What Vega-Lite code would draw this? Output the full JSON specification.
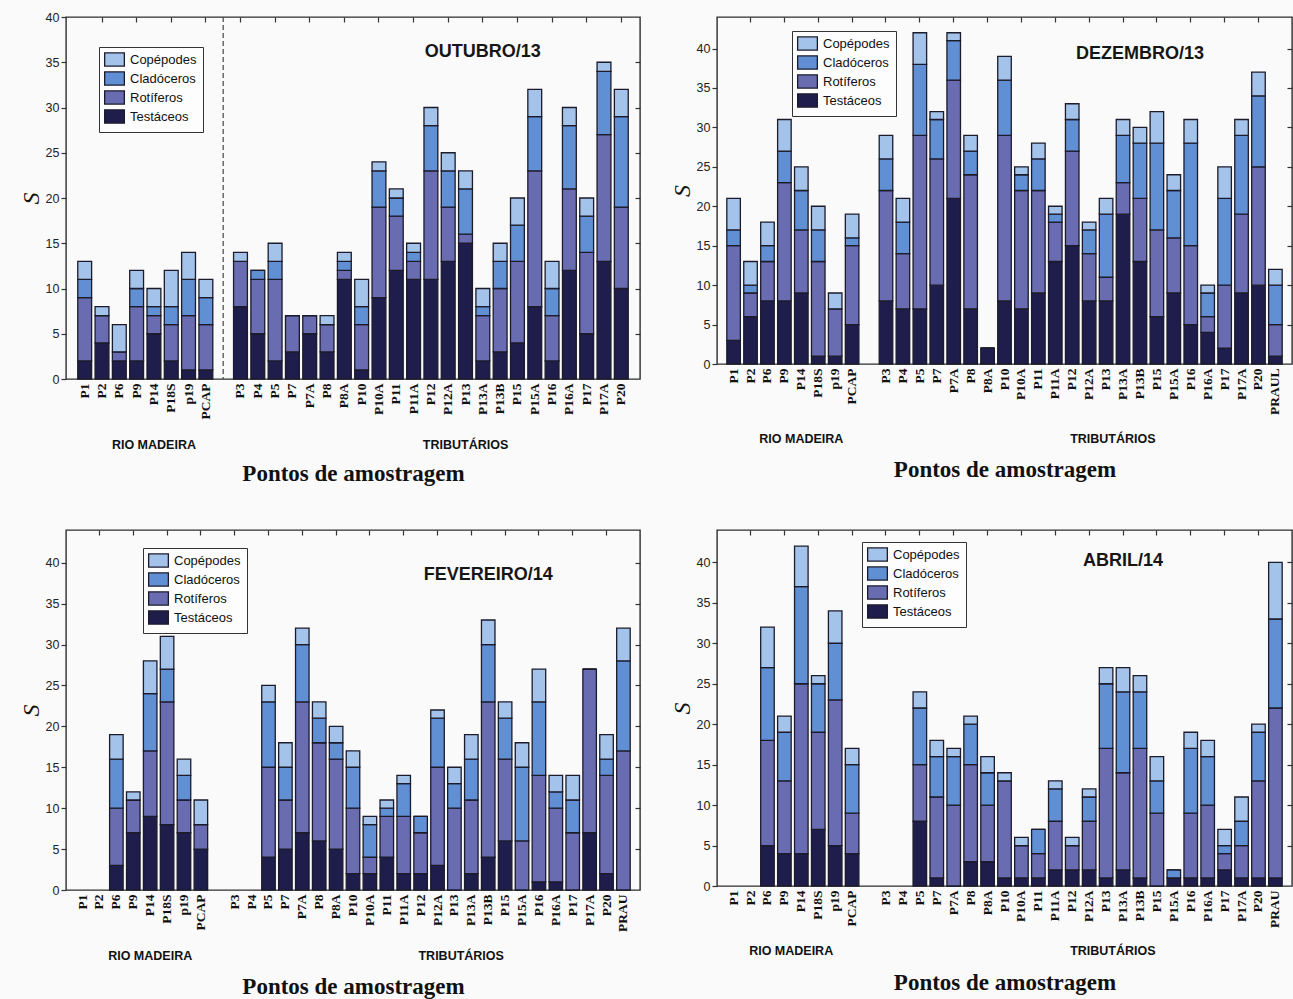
{
  "$schema": "https://vega.github.io/schema/vega-lite/v6.json",
  "background": "#fafafa",
  "padding": {"left": 18, "top": 10, "right": 0, "bottom": 0},
  "config": {
    "view": {"stroke": "#2e2e2e", "strokeWidth": 1.4},
    "font": "Liberation Sans",
    "axis": {"labelOverlap": false, "labelBound": false, "grid": false},
    "legend": {"title": null, "orient": "none", "strokeColor": "#333", "fillColor": "#fdfdfd", "padding": 6, "symbolType": "M-1.8,-1.2H1.8V1.2H-1.8Z", "symbolSize": 120, "symbolStrokeColor": "#1b1b2b", "symbolStrokeWidth": 1.3, "symbolOffset": 3, "labelFont": "Liberation Sans", "labelFontSize": 13, "labelColor": "#111", "labelOffset": 9, "rowPadding": 0}
  },
  "datasets": {
    "outubro": [
      {"Ponto": "P1", "Testáceos": 2, "Rotíferos": 7, "Cladóceros": 2, "Copépodes": 2},
      {"Ponto": "P2", "Testáceos": 4, "Rotíferos": 3, "Cladóceros": 0, "Copépodes": 1},
      {"Ponto": "P6", "Testáceos": 2, "Rotíferos": 1, "Cladóceros": 0, "Copépodes": 3},
      {"Ponto": "P9", "Testáceos": 2, "Rotíferos": 6, "Cladóceros": 2, "Copépodes": 2},
      {"Ponto": "P14", "Testáceos": 5, "Rotíferos": 2, "Cladóceros": 1, "Copépodes": 2},
      {"Ponto": "P18S", "Testáceos": 2, "Rotíferos": 4, "Cladóceros": 2, "Copépodes": 4},
      {"Ponto": "p19", "Testáceos": 1, "Rotíferos": 6, "Cladóceros": 4, "Copépodes": 3},
      {"Ponto": "PCAP", "Testáceos": 1, "Rotíferos": 5, "Cladóceros": 3, "Copépodes": 2},
      {"Ponto": "P3", "Testáceos": 8, "Rotíferos": 5, "Cladóceros": 0, "Copépodes": 1},
      {"Ponto": "P4", "Testáceos": 5, "Rotíferos": 6, "Cladóceros": 1, "Copépodes": 0},
      {"Ponto": "P5", "Testáceos": 2, "Rotíferos": 9, "Cladóceros": 2, "Copépodes": 2},
      {"Ponto": "P7", "Testáceos": 3, "Rotíferos": 4, "Cladóceros": 0, "Copépodes": 0},
      {"Ponto": "P7A", "Testáceos": 5, "Rotíferos": 2, "Cladóceros": 0, "Copépodes": 0},
      {"Ponto": "P8", "Testáceos": 3, "Rotíferos": 3, "Cladóceros": 0, "Copépodes": 1},
      {"Ponto": "P8A", "Testáceos": 11, "Rotíferos": 1, "Cladóceros": 1, "Copépodes": 1},
      {"Ponto": "P10", "Testáceos": 1, "Rotíferos": 5, "Cladóceros": 2, "Copépodes": 3},
      {"Ponto": "P10A", "Testáceos": 9, "Rotíferos": 10, "Cladóceros": 4, "Copépodes": 1},
      {"Ponto": "P11", "Testáceos": 12, "Rotíferos": 6, "Cladóceros": 2, "Copépodes": 1},
      {"Ponto": "P11A", "Testáceos": 11, "Rotíferos": 2, "Cladóceros": 1, "Copépodes": 1},
      {"Ponto": "P12", "Testáceos": 11, "Rotíferos": 12, "Cladóceros": 5, "Copépodes": 2},
      {"Ponto": "P12A", "Testáceos": 13, "Rotíferos": 6, "Cladóceros": 4, "Copépodes": 2},
      {"Ponto": "P13", "Testáceos": 15, "Rotíferos": 1, "Cladóceros": 5, "Copépodes": 2},
      {"Ponto": "P13A", "Testáceos": 2, "Rotíferos": 5, "Cladóceros": 1, "Copépodes": 2},
      {"Ponto": "P13B", "Testáceos": 3, "Rotíferos": 7, "Cladóceros": 3, "Copépodes": 2},
      {"Ponto": "P15", "Testáceos": 4, "Rotíferos": 9, "Cladóceros": 4, "Copépodes": 3},
      {"Ponto": "P15A", "Testáceos": 8, "Rotíferos": 15, "Cladóceros": 6, "Copépodes": 3},
      {"Ponto": "P16", "Testáceos": 2, "Rotíferos": 5, "Cladóceros": 3, "Copépodes": 3},
      {"Ponto": "P16A", "Testáceos": 12, "Rotíferos": 9, "Cladóceros": 7, "Copépodes": 2},
      {"Ponto": "P17", "Testáceos": 5, "Rotíferos": 9, "Cladóceros": 4, "Copépodes": 2},
      {"Ponto": "P17A", "Testáceos": 13, "Rotíferos": 14, "Cladóceros": 7, "Copépodes": 1},
      {"Ponto": "P20", "Testáceos": 10, "Rotíferos": 9, "Cladóceros": 10, "Copépodes": 3}
    ],
    "dezembro": [
      {"Ponto": "P1", "Testáceos": 3, "Rotíferos": 12, "Cladóceros": 2, "Copépodes": 4},
      {"Ponto": "P2", "Testáceos": 6, "Rotíferos": 3, "Cladóceros": 1, "Copépodes": 3},
      {"Ponto": "P6", "Testáceos": 8, "Rotíferos": 5, "Cladóceros": 2, "Copépodes": 3},
      {"Ponto": "P9", "Testáceos": 8, "Rotíferos": 15, "Cladóceros": 4, "Copépodes": 4},
      {"Ponto": "P14", "Testáceos": 9, "Rotíferos": 8, "Cladóceros": 5, "Copépodes": 3},
      {"Ponto": "P18S", "Testáceos": 1, "Rotíferos": 12, "Cladóceros": 4, "Copépodes": 3},
      {"Ponto": "p19", "Testáceos": 1, "Rotíferos": 6, "Cladóceros": 0, "Copépodes": 2},
      {"Ponto": "PCAP", "Testáceos": 5, "Rotíferos": 10, "Cladóceros": 1, "Copépodes": 3},
      {"Ponto": "P3", "Testáceos": 8, "Rotíferos": 14, "Cladóceros": 4, "Copépodes": 3},
      {"Ponto": "P4", "Testáceos": 7, "Rotíferos": 7, "Cladóceros": 4, "Copépodes": 3},
      {"Ponto": "P5", "Testáceos": 7, "Rotíferos": 22, "Cladóceros": 9, "Copépodes": 4},
      {"Ponto": "P7", "Testáceos": 10, "Rotíferos": 16, "Cladóceros": 5, "Copépodes": 1},
      {"Ponto": "P7A", "Testáceos": 21, "Rotíferos": 15, "Cladóceros": 5, "Copépodes": 1},
      {"Ponto": "P8", "Testáceos": 7, "Rotíferos": 17, "Cladóceros": 3, "Copépodes": 2},
      {"Ponto": "P8A", "Testáceos": 2, "Rotíferos": 0, "Cladóceros": 0, "Copépodes": 0},
      {"Ponto": "P10", "Testáceos": 8, "Rotíferos": 21, "Cladóceros": 7, "Copépodes": 3},
      {"Ponto": "P10A", "Testáceos": 7, "Rotíferos": 15, "Cladóceros": 2, "Copépodes": 1},
      {"Ponto": "P11", "Testáceos": 9, "Rotíferos": 13, "Cladóceros": 4, "Copépodes": 2},
      {"Ponto": "P11A", "Testáceos": 13, "Rotíferos": 5, "Cladóceros": 1, "Copépodes": 1},
      {"Ponto": "P12", "Testáceos": 15, "Rotíferos": 12, "Cladóceros": 4, "Copépodes": 2},
      {"Ponto": "P12A", "Testáceos": 8, "Rotíferos": 6, "Cladóceros": 3, "Copépodes": 1},
      {"Ponto": "P13", "Testáceos": 8, "Rotíferos": 3, "Cladóceros": 8, "Copépodes": 2},
      {"Ponto": "P13A", "Testáceos": 19, "Rotíferos": 4, "Cladóceros": 6, "Copépodes": 2},
      {"Ponto": "P13B", "Testáceos": 13, "Rotíferos": 8, "Cladóceros": 7, "Copépodes": 2},
      {"Ponto": "P15", "Testáceos": 6, "Rotíferos": 11, "Cladóceros": 11, "Copépodes": 4},
      {"Ponto": "P15A", "Testáceos": 9, "Rotíferos": 7, "Cladóceros": 6, "Copépodes": 2},
      {"Ponto": "P16", "Testáceos": 5, "Rotíferos": 10, "Cladóceros": 13, "Copépodes": 3},
      {"Ponto": "P16A", "Testáceos": 4, "Rotíferos": 2, "Cladóceros": 3, "Copépodes": 1},
      {"Ponto": "P17", "Testáceos": 2, "Rotíferos": 8, "Cladóceros": 11, "Copépodes": 4},
      {"Ponto": "P17A", "Testáceos": 9, "Rotíferos": 10, "Cladóceros": 10, "Copépodes": 2},
      {"Ponto": "P20", "Testáceos": 10, "Rotíferos": 15, "Cladóceros": 9, "Copépodes": 3},
      {"Ponto": "PRAUL", "Testáceos": 1, "Rotíferos": 4, "Cladóceros": 5, "Copépodes": 2}
    ],
    "fevereiro": [
      {"Ponto": "P6", "Testáceos": 3, "Rotíferos": 7, "Cladóceros": 6, "Copépodes": 3},
      {"Ponto": "P9", "Testáceos": 7, "Rotíferos": 4, "Cladóceros": 0, "Copépodes": 1},
      {"Ponto": "P14", "Testáceos": 9, "Rotíferos": 8, "Cladóceros": 7, "Copépodes": 4},
      {"Ponto": "P18S", "Testáceos": 8, "Rotíferos": 15, "Cladóceros": 4, "Copépodes": 4},
      {"Ponto": "p19", "Testáceos": 7, "Rotíferos": 4, "Cladóceros": 3, "Copépodes": 2},
      {"Ponto": "PCAP", "Testáceos": 5, "Rotíferos": 3, "Cladóceros": 0, "Copépodes": 3},
      {"Ponto": "P5", "Testáceos": 4, "Rotíferos": 11, "Cladóceros": 8, "Copépodes": 2},
      {"Ponto": "P7", "Testáceos": 5, "Rotíferos": 6, "Cladóceros": 4, "Copépodes": 3},
      {"Ponto": "P7A", "Testáceos": 7, "Rotíferos": 16, "Cladóceros": 7, "Copépodes": 2},
      {"Ponto": "P8", "Testáceos": 6, "Rotíferos": 12, "Cladóceros": 3, "Copépodes": 2},
      {"Ponto": "P8A", "Testáceos": 5, "Rotíferos": 11, "Cladóceros": 2, "Copépodes": 2},
      {"Ponto": "P10", "Testáceos": 2, "Rotíferos": 8, "Cladóceros": 5, "Copépodes": 2},
      {"Ponto": "P10A", "Testáceos": 2, "Rotíferos": 2, "Cladóceros": 4, "Copépodes": 1},
      {"Ponto": "P11", "Testáceos": 4, "Rotíferos": 5, "Cladóceros": 1, "Copépodes": 1},
      {"Ponto": "P11A", "Testáceos": 2, "Rotíferos": 7, "Cladóceros": 4, "Copépodes": 1},
      {"Ponto": "P12", "Testáceos": 2, "Rotíferos": 5, "Cladóceros": 2, "Copépodes": 0},
      {"Ponto": "P12A", "Testáceos": 3, "Rotíferos": 12, "Cladóceros": 6, "Copépodes": 1},
      {"Ponto": "P13", "Testáceos": 0, "Rotíferos": 10, "Cladóceros": 3, "Copépodes": 2},
      {"Ponto": "P13A", "Testáceos": 2, "Rotíferos": 9, "Cladóceros": 5, "Copépodes": 3},
      {"Ponto": "P13B", "Testáceos": 4, "Rotíferos": 19, "Cladóceros": 7, "Copépodes": 3},
      {"Ponto": "P15", "Testáceos": 6, "Rotíferos": 10, "Cladóceros": 5, "Copépodes": 2},
      {"Ponto": "P15A", "Testáceos": 0, "Rotíferos": 6, "Cladóceros": 9, "Copépodes": 3},
      {"Ponto": "P16", "Testáceos": 1, "Rotíferos": 13, "Cladóceros": 9, "Copépodes": 4},
      {"Ponto": "P16A", "Testáceos": 1, "Rotíferos": 9, "Cladóceros": 2, "Copépodes": 2},
      {"Ponto": "P17", "Testáceos": 0, "Rotíferos": 7, "Cladóceros": 4, "Copépodes": 3},
      {"Ponto": "P17A", "Testáceos": 7, "Rotíferos": 20, "Cladóceros": 0, "Copépodes": 0},
      {"Ponto": "P20", "Testáceos": 2, "Rotíferos": 12, "Cladóceros": 2, "Copépodes": 3},
      {"Ponto": "PRAU", "Testáceos": 0, "Rotíferos": 17, "Cladóceros": 11, "Copépodes": 4}
    ],
    "abril": [
      {"Ponto": "P6", "Testáceos": 5, "Rotíferos": 13, "Cladóceros": 9, "Copépodes": 5},
      {"Ponto": "P9", "Testáceos": 4, "Rotíferos": 9, "Cladóceros": 6, "Copépodes": 2},
      {"Ponto": "P14", "Testáceos": 4, "Rotíferos": 21, "Cladóceros": 12, "Copépodes": 5},
      {"Ponto": "P18S", "Testáceos": 7, "Rotíferos": 12, "Cladóceros": 6, "Copépodes": 1},
      {"Ponto": "p19", "Testáceos": 5, "Rotíferos": 18, "Cladóceros": 7, "Copépodes": 4},
      {"Ponto": "PCAP", "Testáceos": 4, "Rotíferos": 5, "Cladóceros": 6, "Copépodes": 2},
      {"Ponto": "P5", "Testáceos": 8, "Rotíferos": 7, "Cladóceros": 7, "Copépodes": 2},
      {"Ponto": "P7", "Testáceos": 1, "Rotíferos": 10, "Cladóceros": 5, "Copépodes": 2},
      {"Ponto": "P7A", "Testáceos": 0, "Rotíferos": 10, "Cladóceros": 6, "Copépodes": 1},
      {"Ponto": "P8", "Testáceos": 3, "Rotíferos": 12, "Cladóceros": 5, "Copépodes": 1},
      {"Ponto": "P8A", "Testáceos": 3, "Rotíferos": 7, "Cladóceros": 4, "Copépodes": 2},
      {"Ponto": "P10", "Testáceos": 1, "Rotíferos": 12, "Cladóceros": 0, "Copépodes": 1},
      {"Ponto": "P10A", "Testáceos": 1, "Rotíferos": 4, "Cladóceros": 0, "Copépodes": 1},
      {"Ponto": "P11", "Testáceos": 1, "Rotíferos": 3, "Cladóceros": 3, "Copépodes": 0},
      {"Ponto": "P11A", "Testáceos": 2, "Rotíferos": 6, "Cladóceros": 4, "Copépodes": 1},
      {"Ponto": "P12", "Testáceos": 2, "Rotíferos": 3, "Cladóceros": 0, "Copépodes": 1},
      {"Ponto": "P12A", "Testáceos": 2, "Rotíferos": 6, "Cladóceros": 3, "Copépodes": 1},
      {"Ponto": "P13", "Testáceos": 1, "Rotíferos": 16, "Cladóceros": 8, "Copépodes": 2},
      {"Ponto": "P13A", "Testáceos": 2, "Rotíferos": 12, "Cladóceros": 10, "Copépodes": 3},
      {"Ponto": "P13B", "Testáceos": 1, "Rotíferos": 16, "Cladóceros": 7, "Copépodes": 2},
      {"Ponto": "P15", "Testáceos": 0, "Rotíferos": 9, "Cladóceros": 4, "Copépodes": 3},
      {"Ponto": "P15A", "Testáceos": 1, "Rotíferos": 0, "Cladóceros": 1, "Copépodes": 0},
      {"Ponto": "P16", "Testáceos": 1, "Rotíferos": 8, "Cladóceros": 8, "Copépodes": 2},
      {"Ponto": "P16A", "Testáceos": 1, "Rotíferos": 9, "Cladóceros": 6, "Copépodes": 2},
      {"Ponto": "P17", "Testáceos": 2, "Rotíferos": 2, "Cladóceros": 1, "Copépodes": 2},
      {"Ponto": "P17A", "Testáceos": 1, "Rotíferos": 4, "Cladóceros": 3, "Copépodes": 3},
      {"Ponto": "P20", "Testáceos": 1, "Rotíferos": 12, "Cladóceros": 6, "Copépodes": 1},
      {"Ponto": "PRAU", "Testáceos": 1, "Rotíferos": 21, "Cladóceros": 11, "Copépodes": 7}
    ]
  },
  "columns": 2,
  "spacing": {"row": 151, "column": 77},
  "bounds": "flush",
  "resolve": {
    "scale": {"x": "independent", "y": "independent", "color": "independent"},
    "legend": {"color": "independent"}
  },
  "concat": [
    {
      "width": 574,
      "height": 362,
      "data": {"name": "outubro"},
      "layer": [
        {
          "transform": [
            {"fold": ["Testáceos", "Rotíferos", "Cladóceros", "Copépodes"], "as": ["Grupo", "S"]},
            {"window": [{"op": "row_number", "as": "camada"}], "groupby": ["Ponto"]}
          ],
          "mark": {"type": "bar", "stroke": "#1b1b2b", "strokeWidth": 1.3},
          "encoding": {
            "x": {
              "field": "Ponto", "type": "nominal",
              "scale": {"domain": ["P1","P2","P6","P9","P14","P18S","p19","PCAP"," ","P3","P4","P5","P7","P7A","P8","P8A","P10","P10A","P11","P11A","P12","P12A","P13","P13A","P13B","P15","P15A","P16","P16A","P17","P17A","P20"], "paddingInner": 0.2, "paddingOuter": 0.68},
              "axis": {"title": "Pontos de amostragem", "titleFont": "Liberation Serif", "titleFontSize": 23, "titleFontWeight": "bold", "titleColor": "#111", "titlePadding": 44, "labelAngle": -90, "labelFont": "Liberation Serif", "labelFontWeight": "bold", "labelFontSize": 13.5, "labelColor": "#111", "labelPadding": 4, "ticks": false, "domain": false}
            },
            "y": {
              "field": "S", "type": "quantitative", "stack": "zero",
              "scale": {"domain": [0, 40], "nice": false},
              "axis": {"title": "S", "titleFont": "Liberation Serif", "titleFontStyle": "italic", "titleFontWeight": "normal", "titleFontSize": 24, "titleColor": "#111", "titlePadding": 2, "values": [0,5,10,15,20,25,30,35,40], "tickSize": 5, "tickColor": "#333", "tickWidth": 1.2, "labelPadding": 2, "labelFont": "Liberation Sans", "labelFontSize": 12.5, "labelColor": "#222", "domain": false}
            },
            "color": {
              "field": "Grupo", "type": "nominal",
              "scale": {"domain": ["Copépodes", "Cladóceros", "Rotíferos", "Testáceos"], "range": ["#a4c3ea", "#6090d3", "#6a6cb2", "#1e1d4b"]},
              "legend": {"legendX": 33, "legendY": 30}
            },
            "order": {"field": "camada", "type": "quantitative", "sort": "ascending"}
          }
        },
        {
          "data": {"values": [{}]},
          "mark": {"type": "rule", "strokeDash": [5, 3], "color": "#444", "strokeWidth": 1.2},
          "encoding": {"x": {"datum": " ", "type": "nominal", "axis": null}}
        },
        {
          "data": {"values": [{}]},
          "mark": {"type": "text", "font": "Liberation Sans", "fontWeight": "bold", "fontSize": 12.5, "color": "#111", "baseline": "middle", "dy": 66},
          "encoding": {
            "x": {"datum": "P14", "type": "nominal", "axis": null},
            "y": {"datum": 0, "type": "quantitative", "axis": null},
            "text": {"value": "RIO MADEIRA"}
          }
        },
        {
          "data": {"values": [{}]},
          "mark": {"type": "text", "font": "Liberation Sans", "fontWeight": "bold", "fontSize": 12.5, "color": "#111", "baseline": "middle", "dy": 66},
          "encoding": {
            "x": {"datum": "P13", "type": "nominal", "axis": null},
            "y": {"datum": 0, "type": "quantitative", "axis": null},
            "text": {"value": "TRIBUTÁRIOS"}
          }
        },
        {
          "data": {"values": [{}]},
          "mark": {"type": "text", "font": "Liberation Sans", "fontWeight": "bold", "fontSize": 18, "color": "#161616", "baseline": "middle"},
          "encoding": {
            "x": {"datum": "P13A", "type": "nominal", "axis": {"orient": "top", "labels": false, "title": null, "domain": false, "tickSize": -5, "tickColor": "#333", "tickWidth": 1.2, "values": ["P2","P9","P18S","PCAP","P3","P5","P7A","P8A","P10A","P11A","P12A","P13A","P15","P16","P17","P20"]}},
            "y": {"datum": 36.1, "type": "quantitative", "axis": {"orient": "right", "labels": false, "title": null, "domain": false, "tickSize": -5, "tickColor": "#333", "tickWidth": 1.2, "minExtent": 0, "values": [5,10,15,20,25,30,35]}},
            "text": {"value": "OUTUBRO/13"}
          }
        }
      ],
      "resolve": {"axis": {"x": "independent", "y": "independent"}}
    },
    {
      "width": 575,
      "height": 347,
      "data": {"name": "dezembro"},
      "layer": [
        {
          "transform": [
            {"fold": ["Testáceos", "Rotíferos", "Cladóceros", "Copépodes"], "as": ["Grupo", "S"]},
            {"window": [{"op": "row_number", "as": "camada"}], "groupby": ["Ponto"]}
          ],
          "mark": {"type": "bar", "stroke": "#1b1b2b", "strokeWidth": 1.3},
          "encoding": {
            "x": {
              "field": "Ponto", "type": "nominal",
              "scale": {"domain": ["P1","P2","P6","P9","P14","P18S","p19","PCAP"," ","P3","P4","P5","P7","P7A","P8","P8A","P10","P10A","P11","P11A","P12","P12A","P13","P13A","P13B","P15","P15A","P16","P16A","P17","P17A","P20","PRAUL"], "paddingInner": 0.2, "paddingOuter": 0.58},
              "axis": {"title": "Pontos de amostragem", "titleFont": "Liberation Serif", "titleFontSize": 23, "titleFontWeight": "bold", "titleColor": "#111", "titlePadding": 44, "labelAngle": -90, "labelFont": "Liberation Serif", "labelFontWeight": "bold", "labelFontSize": 13.5, "labelColor": "#111", "labelPadding": 4, "ticks": false, "domain": false}
            },
            "y": {
              "field": "S", "type": "quantitative", "stack": "zero",
              "scale": {"domain": [0, 44], "nice": false},
              "axis": {"title": "S", "titleFont": "Liberation Serif", "titleFontStyle": "italic", "titleFontWeight": "normal", "titleFontSize": 24, "titleColor": "#111", "titlePadding": 2, "values": [0,5,10,15,20,25,30,35,40], "tickSize": 5, "tickColor": "#333", "tickWidth": 1.2, "labelPadding": 2, "labelFont": "Liberation Sans", "labelFontSize": 12.5, "labelColor": "#222", "domain": false}
            },
            "color": {
              "field": "Grupo", "type": "nominal",
              "scale": {"domain": ["Copépodes", "Cladóceros", "Rotíferos", "Testáceos"], "range": ["#a4c3ea", "#6090d3", "#6a6cb2", "#1e1d4b"]},
              "legend": {"legendX": 75, "legendY": 14}
            },
            "order": {"field": "camada", "type": "quantitative", "sort": "ascending"}
          }
        },
        {
          "data": {"values": [{}]},
          "mark": {"type": "text", "font": "Liberation Sans", "fontWeight": "bold", "fontSize": 12.5, "color": "#111", "baseline": "middle", "dy": 75},
          "encoding": {
            "x": {"datum": "P14", "type": "nominal", "axis": null},
            "y": {"datum": 0, "type": "quantitative", "axis": null},
            "text": {"value": "RIO MADEIRA"}
          }
        },
        {
          "data": {"values": [{}]},
          "mark": {"type": "text", "font": "Liberation Sans", "fontWeight": "bold", "fontSize": 12.5, "color": "#111", "baseline": "middle", "dy": 75},
          "encoding": {
            "x": {"datum": "P13", "type": "nominal", "bandPosition": 1, "axis": null},
            "y": {"datum": 0, "type": "quantitative", "axis": null},
            "text": {"value": "TRIBUTÁRIOS"}
          }
        },
        {
          "data": {"values": [{}]},
          "mark": {"type": "text", "font": "Liberation Sans", "fontWeight": "bold", "fontSize": 18, "color": "#161616", "baseline": "middle"},
          "encoding": {
            "x": {"datum": "P13B", "type": "nominal", "axis": {"orient": "top", "labels": false, "title": null, "domain": false, "tickSize": -5, "tickColor": "#333", "tickWidth": 1.2, "values": ["P2","P9","P18S","PCAP","P3","P5","P7A","P8A","P10A","P11A","P12A","P13A","P15","P16","P17","P20"]}},
            "y": {"datum": 39.3, "type": "quantitative", "axis": {"orient": "right", "labels": false, "title": null, "domain": false, "tickSize": -5, "tickColor": "#333", "tickWidth": 1.2, "minExtent": 0, "values": [5,10,15,20,25,30,35,40]}},
            "text": {"value": "DEZEMBRO/13"}
          }
        }
      ],
      "resolve": {"axis": {"x": "independent", "y": "independent"}}
    },
    {
      "width": 574,
      "height": 360,
      "data": {"name": "fevereiro"},
      "layer": [
        {
          "transform": [
            {"fold": ["Testáceos", "Rotíferos", "Cladóceros", "Copépodes"], "as": ["Grupo", "S"]},
            {"window": [{"op": "row_number", "as": "camada"}], "groupby": ["Ponto"]}
          ],
          "mark": {"type": "bar", "stroke": "#1b1b2b", "strokeWidth": 1.3},
          "encoding": {
            "x": {
              "field": "Ponto", "type": "nominal",
              "scale": {"domain": ["P1","P2","P6","P9","P14","P18S","p19","PCAP"," ","P3","P4","P5","P7","P7A","P8","P8A","P10","P10A","P11","P11A","P12","P12A","P13","P13A","P13B","P15","P15A","P16","P16A","P17","P17A","P20","PRAU"], "paddingInner": 0.2, "paddingOuter": 0.58},
              "axis": {"title": "Pontos de amostragem", "titleFont": "Liberation Serif", "titleFontSize": 23, "titleFontWeight": "bold", "titleColor": "#111", "titlePadding": 44, "labelAngle": -90, "labelFont": "Liberation Serif", "labelFontWeight": "bold", "labelFontSize": 13.5, "labelColor": "#111", "labelPadding": 4, "ticks": false, "domain": false}
            },
            "y": {
              "field": "S", "type": "quantitative", "stack": "zero",
              "scale": {"domain": [0, 44], "nice": false},
              "axis": {"title": "S", "titleFont": "Liberation Serif", "titleFontStyle": "italic", "titleFontWeight": "normal", "titleFontSize": 24, "titleColor": "#111", "titlePadding": 2, "values": [0,5,10,15,20,25,30,35,40], "tickSize": 5, "tickColor": "#333", "tickWidth": 1.2, "labelPadding": 2, "labelFont": "Liberation Sans", "labelFontSize": 12.5, "labelColor": "#222", "domain": false}
            },
            "color": {
              "field": "Grupo", "type": "nominal",
              "scale": {"domain": ["Copépodes", "Cladóceros", "Rotíferos", "Testáceos"], "range": ["#a4c3ea", "#6090d3", "#6a6cb2", "#1e1d4b"]},
              "legend": {"legendX": 77, "legendY": 18}
            },
            "order": {"field": "camada", "type": "quantitative", "sort": "ascending"}
          }
        },
        {
          "data": {"values": [{}]},
          "mark": {"type": "text", "font": "Liberation Sans", "fontWeight": "bold", "fontSize": 12.5, "color": "#111", "baseline": "middle", "dy": 66},
          "encoding": {
            "x": {"datum": "P14", "type": "nominal", "axis": null},
            "y": {"datum": 0, "type": "quantitative", "axis": null},
            "text": {"value": "RIO MADEIRA"}
          }
        },
        {
          "data": {"values": [{}]},
          "mark": {"type": "text", "font": "Liberation Sans", "fontWeight": "bold", "fontSize": 12.5, "color": "#111", "baseline": "middle", "dy": 66},
          "encoding": {
            "x": {"datum": "P13", "type": "nominal", "bandPosition": 1, "axis": null},
            "y": {"datum": 0, "type": "quantitative", "axis": null},
            "text": {"value": "TRIBUTÁRIOS"}
          }
        },
        {
          "data": {"values": [{}]},
          "mark": {"type": "text", "font": "Liberation Sans", "fontWeight": "bold", "fontSize": 18, "color": "#161616", "baseline": "middle"},
          "encoding": {
            "x": {"datum": "P13B", "type": "nominal", "axis": {"orient": "top", "labels": false, "title": null, "domain": false, "tickSize": -5, "tickColor": "#333", "tickWidth": 1.2, "values": ["P2","P9","P18S","PCAP","P3","P5","P7A","P8A","P10A","P11A","P12A","P13A","P15","P16","P17","P20"]}},
            "y": {"datum": 38.5, "type": "quantitative", "axis": {"orient": "right", "labels": false, "title": null, "domain": false, "tickSize": -5, "tickColor": "#333", "tickWidth": 1.2, "minExtent": 0, "values": [5,10,15,20,25,30,35,40]}},
            "text": {"value": "FEVEREIRO/14"}
          }
        }
      ],
      "resolve": {"axis": {"x": "independent", "y": "independent"}}
    },
    {
      "width": 575,
      "height": 356,
      "data": {"name": "abril"},
      "layer": [
        {
          "transform": [
            {"fold": ["Testáceos", "Rotíferos", "Cladóceros", "Copépodes"], "as": ["Grupo", "S"]},
            {"window": [{"op": "row_number", "as": "camada"}], "groupby": ["Ponto"]}
          ],
          "mark": {"type": "bar", "stroke": "#1b1b2b", "strokeWidth": 1.3},
          "encoding": {
            "x": {
              "field": "Ponto", "type": "nominal",
              "scale": {"domain": ["P1","P2","P6","P9","P14","P18S","p19","PCAP"," ","P3","P4","P5","P7","P7A","P8","P8A","P10","P10A","P11","P11A","P12","P12A","P13","P13A","P13B","P15","P15A","P16","P16A","P17","P17A","P20","PRAU"], "paddingInner": 0.2, "paddingOuter": 0.58},
              "axis": {"title": "Pontos de amostragem", "titleFont": "Liberation Serif", "titleFontSize": 23, "titleFontWeight": "bold", "titleColor": "#111", "titlePadding": 44, "labelAngle": -90, "labelFont": "Liberation Serif", "labelFontWeight": "bold", "labelFontSize": 13.5, "labelColor": "#111", "labelPadding": 4, "ticks": false, "domain": false}
            },
            "y": {
              "field": "S", "type": "quantitative", "stack": "zero",
              "scale": {"domain": [0, 44], "nice": false},
              "axis": {"title": "S", "titleFont": "Liberation Serif", "titleFontStyle": "italic", "titleFontWeight": "normal", "titleFontSize": 24, "titleColor": "#111", "titlePadding": 2, "values": [0,5,10,15,20,25,30,35,40], "tickSize": 5, "tickColor": "#333", "tickWidth": 1.2, "labelPadding": 2, "labelFont": "Liberation Sans", "labelFontSize": 12.5, "labelColor": "#222", "domain": false}
            },
            "color": {
              "field": "Grupo", "type": "nominal",
              "scale": {"domain": ["Copépodes", "Cladóceros", "Rotíferos", "Testáceos"], "range": ["#a4c3ea", "#6090d3", "#6a6cb2", "#1e1d4b"]},
              "legend": {"legendX": 145, "legendY": 12}
            },
            "order": {"field": "camada", "type": "quantitative", "sort": "ascending"}
          }
        },
        {
          "data": {"values": [{}]},
          "mark": {"type": "text", "font": "Liberation Sans", "fontWeight": "bold", "fontSize": 12.5, "color": "#111", "baseline": "middle", "dy": 65},
          "encoding": {
            "x": {"datum": "P9", "type": "nominal", "bandPosition": 1, "axis": null},
            "y": {"datum": 0, "type": "quantitative", "axis": null},
            "text": {"value": "RIO MADEIRA"}
          }
        },
        {
          "data": {"values": [{}]},
          "mark": {"type": "text", "font": "Liberation Sans", "fontWeight": "bold", "fontSize": 12.5, "color": "#111", "baseline": "middle", "dy": 65},
          "encoding": {
            "x": {"datum": "P13", "type": "nominal", "bandPosition": 1, "axis": null},
            "y": {"datum": 0, "type": "quantitative", "axis": null},
            "text": {"value": "TRIBUTÁRIOS"}
          }
        },
        {
          "data": {"values": [{}]},
          "mark": {"type": "text", "font": "Liberation Sans", "fontWeight": "bold", "fontSize": 18, "color": "#161616", "baseline": "middle"},
          "encoding": {
            "x": {"datum": "P13A", "type": "nominal", "axis": {"orient": "top", "labels": false, "title": null, "domain": false, "tickSize": -5, "tickColor": "#333", "tickWidth": 1.2, "values": ["P2","P9","P18S","PCAP","P3","P5","P7A","P8A","P10A","P11A","P12A","P13A","P15","P16","P17","P20"]}},
            "y": {"datum": 40.2, "type": "quantitative", "axis": {"orient": "right", "labels": false, "title": null, "domain": false, "tickSize": -5, "tickColor": "#333", "tickWidth": 1.2, "minExtent": 0, "values": [5,10,15,20,25,30,35,40]}},
            "text": {"value": "ABRIL/14"}
          }
        }
      ],
      "resolve": {"axis": {"x": "independent", "y": "independent"}}
    }
  ]
}
